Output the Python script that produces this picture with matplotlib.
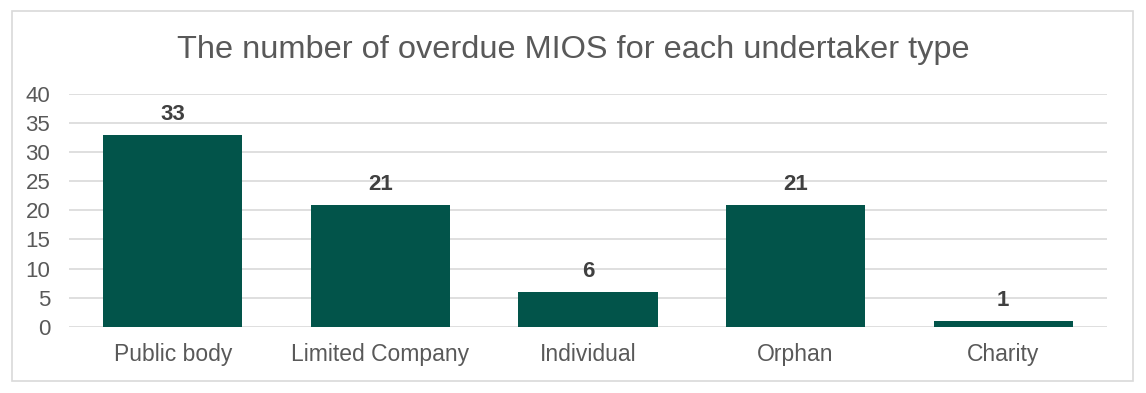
import matplotlib
matplotlib.use("Agg")
import matplotlib.pyplot as plt
from matplotlib.patches import Rectangle

categories = ["Public body", "Limited Company", "Individual", "Orphan", "Charity"]
values = [33, 21, 6, 21, 1]
yticks = [0, 5, 10, 15, 20, 25, 30, 35, 40]

W, H = 1146, 393
fig = plt.figure(figsize=(W / 100, H / 100), dpi=100)
plt.rcParams['font.family'] = ['Liberation Sans', 'DejaVu Sans']

# outer border
fig.patches.append(Rectangle((12 / W, 1 - 380.5 / H), (1133 - 12) / W, (380.5 - 10.7) / H,
                             transform=fig.transFigure, fill=False, edgecolor='#d9d9d9', lw=1.2))

ax = fig.add_axes([69 / W, 1 - 326.7 / H, (1107 - 69) / W, (326.7 - 94) / H])
x = list(range(len(categories)))
bars = ax.bar(x, values, width=0.67, color='#02544A', zorder=3)
ax.set_xlim(-0.5, len(categories) - 0.5)
ax.set_ylim(0, 40)
ax.set_yticks(yticks)
ax.set_xticks(x)
ax.set_xticklabels(categories, fontsize=16.5, color='#595959')
ax.tick_params(axis='y', labelsize=16, colors='#595959', length=0, pad=13.5)
ax.tick_params(axis='x', length=0, pad=12)
ax.grid(axis='y', color='#d9d9d9', lw=1.2, zorder=0)
for s in ax.spines.values():
    s.set_visible(False)

for xi, v in zip(x, values):
    ax.annotate(str(v), (xi, v), xytext=(0, 10.8), textcoords='offset points',
                ha='center', va='baseline', fontsize=16, fontweight='bold', color='#404040')

fig.text(573 / W, 1 - 58 / H, "The number of overdue MIOS for each undertaker type",
         ha='center', va='baseline', fontsize=23.4, color='#595959')

fig.savefig("out.png", dpi=100)
